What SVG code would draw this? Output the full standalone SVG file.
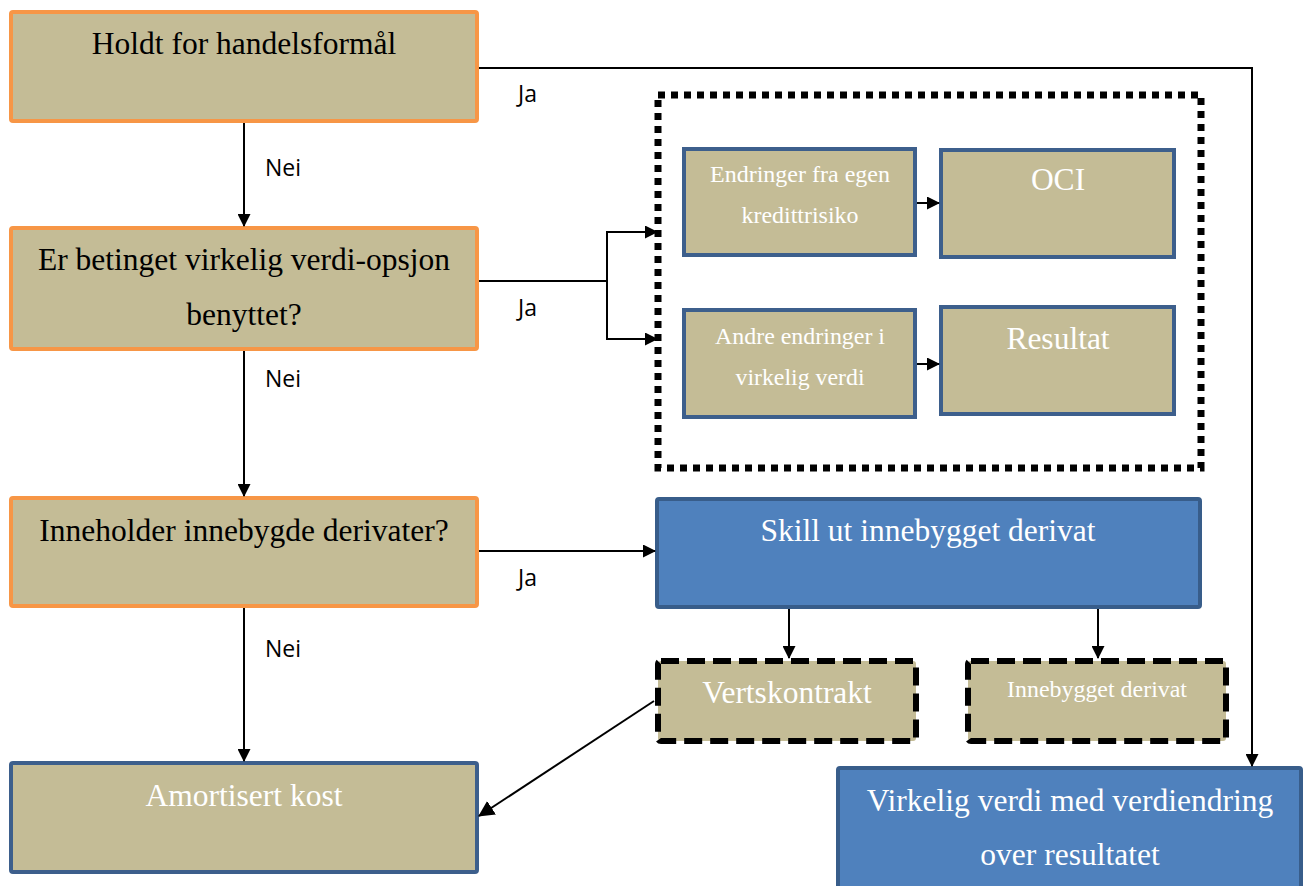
<svg xmlns="http://www.w3.org/2000/svg" width="1306" height="886" viewBox="0 0 1306 886">
<style>
.box{fill:#C4BC96;}
.or{stroke:#F79646;stroke-width:4;}
.bl{stroke:#3D5F8C;stroke-width:4;}
.blue{fill:#4F81BD;stroke:#385D8A;stroke-width:4;}
.dash{stroke:#000;stroke-width:6;stroke-dasharray:18 8;}
.t{font-family:"Liberation Serif","Times New Roman",serif;text-anchor:middle;}
.dk{fill:#000;}
.wt{fill:#fff;}
.lbl{font-family:"Open Sans","Liberation Sans",sans-serif;font-size:23px;fill:#000;}
.c{fill:none;stroke:#000;stroke-width:2;}
</style>
<defs>
<marker id="ah" markerWidth="13" markerHeight="13" refX="12" refY="6.5" orient="auto" markerUnits="userSpaceOnUse" viewBox="0 0 13 13">
<path d="M0,0 L13,6.5 L0,13 z" fill="#000"/>
</marker>
<marker id="ahs" markerWidth="16" markerHeight="16" refX="15" refY="8" orient="auto" markerUnits="userSpaceOnUse" viewBox="0 0 16 16">
<path d="M0,0 L16,8 L0,16 z" fill="#000"/>
</marker>
</defs>

<g id="n1">
<rect class="box or" x="11" y="12" width="466" height="109" rx="2"/>
<text class="t dk" x="244" y="54" font-size="31.5">Holdt for handelsformål</text>
</g>
<g id="n2">
<rect class="box or" x="11" y="228" width="466" height="121" rx="2"/>
<text class="t dk" x="244" y="270" font-size="31.5">Er betinget virkelig verdi-opsjon</text>
<text class="t dk" x="244" y="325" font-size="31.5">benyttet?</text>
</g>
<g id="n3">
<rect class="box or" x="11" y="498" width="466" height="108" rx="2"/>
<text class="t dk" x="244" y="541" font-size="31.5">Inneholder innebygde derivater?</text>
</g>
<g id="n4">
<rect class="box bl" x="11" y="763" width="466" height="109" rx="2"/>
<text class="t wt" x="244" y="806" font-size="31.5">Amortisert kost</text>
</g>

<g id="container">
<rect x="658" y="95" width="543" height="373" fill="none" stroke="#000" stroke-width="7" stroke-dasharray="7 6"/>
</g>
<g id="n5">
<rect class="box bl" x="684" y="149" width="231" height="106"/>
<text class="t wt" x="800" y="182" font-size="23" textLength="180" lengthAdjust="spacingAndGlyphs">Endringer fra egen</text>
<text class="t wt" x="800" y="223" font-size="23" textLength="117" lengthAdjust="spacingAndGlyphs">kredittrisiko</text>
</g>
<g id="n6">
<rect class="box bl" x="941" y="150" width="233" height="107"/>
<text class="t wt" x="1058" y="190" font-size="31.5">OCI</text>
</g>
<g id="n7">
<rect class="box bl" x="684" y="310" width="231" height="107"/>
<text class="t wt" x="800" y="344" font-size="23" textLength="170" lengthAdjust="spacingAndGlyphs">Andre endringer i</text>
<text class="t wt" x="800" y="385" font-size="23" textLength="129" lengthAdjust="spacingAndGlyphs">virkelig verdi</text>
</g>
<g id="n8">
<rect class="box bl" x="941" y="307" width="233" height="107"/>
<text class="t wt" x="1058" y="349" font-size="31.5">Resultat</text>
</g>

<g id="n9">
<rect class="blue" x="657" y="499" width="543" height="108" rx="2"/>
<text class="t wt" x="928" y="541" font-size="31.5">Skill ut innebygget derivat</text>
</g>
<g id="n10">
<rect class="box dash" x="658" y="661" width="258" height="80" rx="3"/>
<text class="t wt" x="787" y="703" font-size="31.5">Vertskontrakt</text>
</g>
<g id="n11">
<rect class="box dash" x="968" y="661" width="258" height="80" rx="3"/>
<text class="t wt" x="1097" y="697" font-size="23" textLength="180" lengthAdjust="spacingAndGlyphs">Innebygget derivat</text>
</g>
<g id="n12">
<rect class="blue" x="838" y="768" width="463" height="125" rx="2"/>
<text class="t wt" x="1070" y="811" font-size="31.5">Virkelig verdi med verdiendring</text>
<text class="t wt" x="1070" y="865" font-size="31.5">over resultatet</text>
</g>

<g id="connectors">
<polyline class="c" points="479,68 1252,68 1252,766" marker-end="url(#ah)"/>
<line class="c" x1="244" y1="123" x2="244" y2="226" marker-end="url(#ah)"/>
<polyline class="c" points="479,281 607,281 607,232 657,232" marker-end="url(#ah)"/>
<polyline class="c" points="607,281 607,339 657,339" marker-end="url(#ah)"/>
<line class="c" x1="244" y1="351" x2="244" y2="496" marker-end="url(#ah)"/>
<line class="c" x1="479" y1="551" x2="655" y2="551" marker-end="url(#ah)"/>
<line class="c" x1="244" y1="608" x2="244" y2="761" marker-end="url(#ah)"/>
<line class="c" x1="789" y1="609" x2="789" y2="658" marker-end="url(#ah)"/>
<line class="c" x1="1098" y1="609" x2="1098" y2="658" marker-end="url(#ah)"/>
<line class="c" x1="654" y1="701" x2="479" y2="816" marker-end="url(#ahs)"/>
<line class="c" x1="917" y1="203" x2="939" y2="203" marker-end="url(#ah)"/>
<line class="c" x1="917" y1="364" x2="939" y2="364" marker-end="url(#ah)"/>
<text class="lbl" x="518" y="102">Ja</text>
<text class="lbl" x="265" y="176">Nei</text>
<text class="lbl" x="518" y="316">Ja</text>
<text class="lbl" x="265" y="387">Nei</text>
<text class="lbl" x="518" y="586">Ja</text>
<text class="lbl" x="265" y="657">Nei</text>
</g>
</svg>
